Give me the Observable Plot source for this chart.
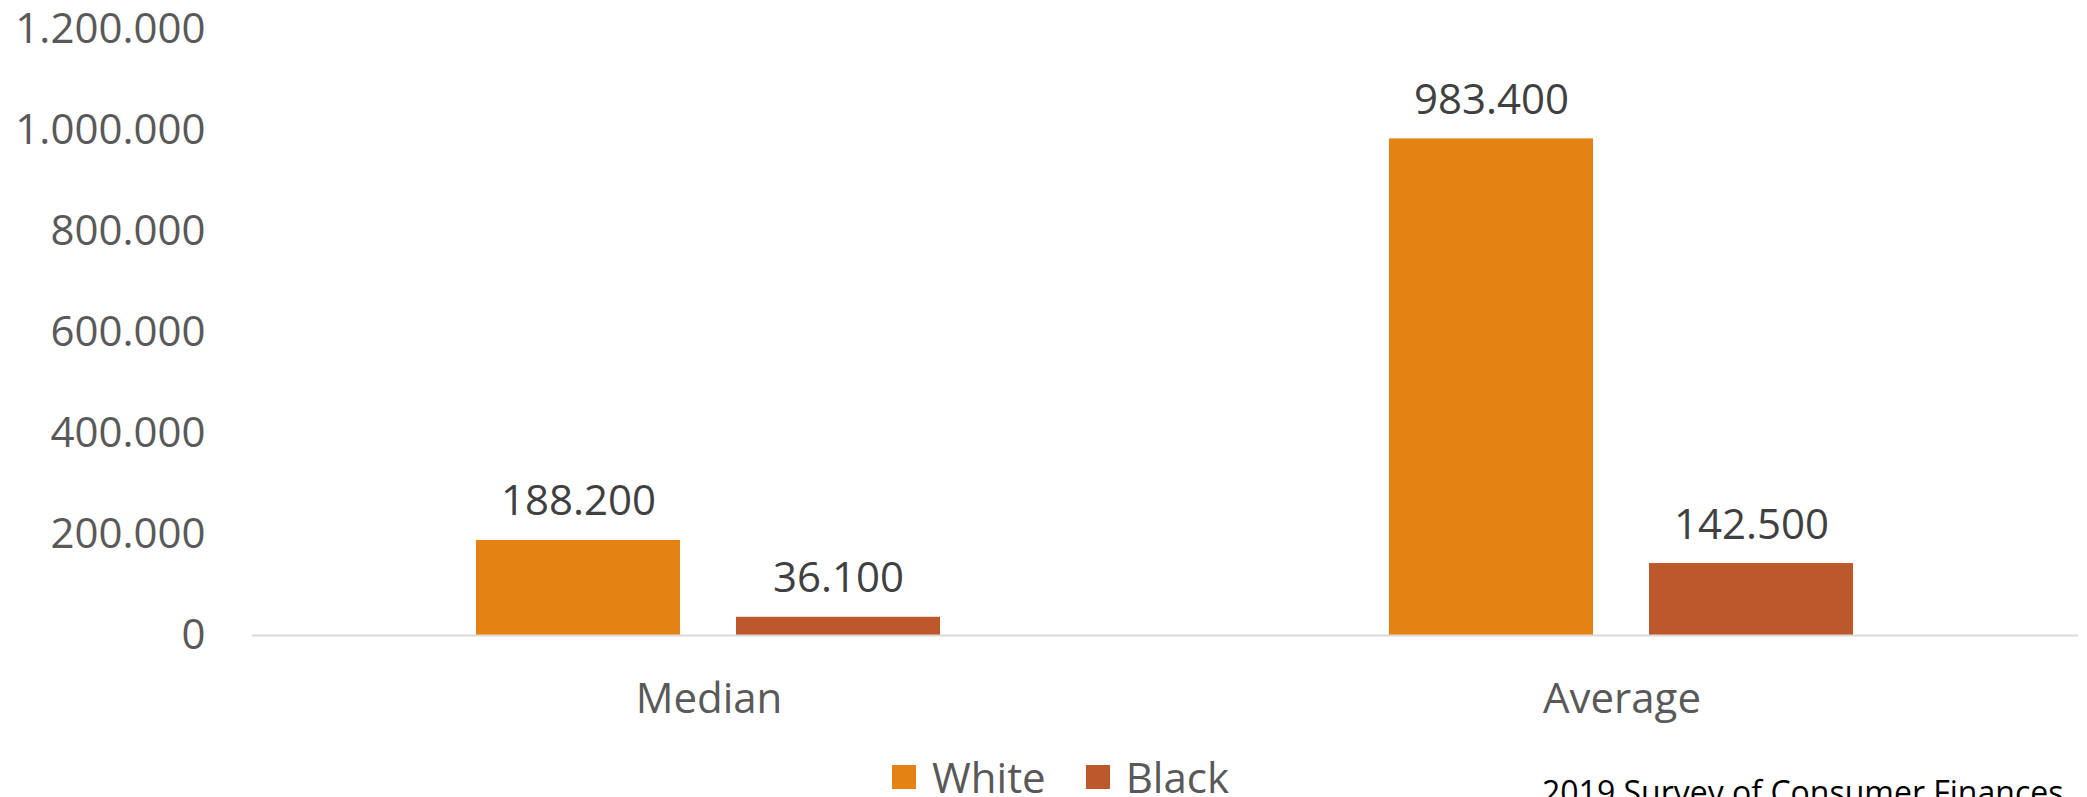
<!DOCTYPE html>
<html>
<head>
<meta charset="utf-8">
<script src="https://cdn.jsdelivr.net/npm/d3@7"></script>
<script src="https://cdn.jsdelivr.net/npm/@observablehq/plot@0.6"></script>
<style>
  html, body { margin: 0; padding: 0; background: #fff; overflow: hidden; }
  #wrap { position: relative; width: 2087px; height: 797px; font-family: "Open Sans", sans-serif; }
  .legend { position: absolute; left: 892px; top: 756px; display: flex; align-items: center; font-size: 42px; line-height: 42px; color: #595959; }
  .legend .sw { width: 24px; height: 24px; margin-right: 16px; }
  .legend .item { display: flex; align-items: center; margin-right: 40px; }
  .caption { position: absolute; left: 1542px; top: 776px; font-size: 32px; line-height: 32px; color: #000; white-space: nowrap; }
</style>
</head>
<body>
<div id="wrap"></div>
<script>
const categories = ["Median", "Average"];
const races = ["White", "Black"];
const whiteValues = [188200, 983400];
const blackValues = [36100, 142500];
const yTicks = [0, 200000, 400000, 600000, 800000, 1000000, 1200000];
const colors = ["#E48312", "#BD582C"];
const captionText = "2019 Survey of Consumer Finances";

const data = [];
categories.forEach((c, i) => {
  data.push({category: c, race: "White", value: whiteValues[i]});
  data.push({category: c, race: "Black", value: blackValues[i]});
});

const locale = d3.formatLocale({decimal: ",", thousands: ".", grouping: [3], currency: ["", ""]});
const fmt = locale.format(",d");

const chart = Plot.plot({
  width: 2087,
  height: 745,
  marginTop: 29,
  marginBottom: 110,
  marginLeft: 252,
  marginRight: 9,
  style: {fontFamily: "'Open Sans', sans-serif", fontSize: "42px", background: "#fff"},
  fx: {domain: categories, padding: 0, label: null},
  x: {domain: races, paddingInner: 0.215, paddingOuter: 0.861, axis: null},
  y: {domain: [0, 1200000], label: null},
  color: {type: "ordinal", domain: races, range: colors},
  marks: [
    Plot.axisY({ticks: yTicks, tickFormat: fmt, tickSize: 0, tickPadding: 47, fill: "#595959", fontSize: 42, label: null}),
    Plot.axisFx({anchor: "bottom", tickSize: 0, tickPadding: 48, fill: "#595959", fontSize: 42, label: null}),
    Plot.barY(data, {fx: "category", x: "race", y: "value", fill: {value: "race", scale: "color"}}),
    Plot.ruleY([0], {stroke: "#d9d9d9", strokeWidth: 2}),
    Plot.text(data, {fx: "category", x: "race", y: "value", text: d => fmt(d.value), lineAnchor: "bottom", dy: -25, fill: "#404040", fontSize: 42})
  ]
});

const wrap = document.getElementById("wrap");
wrap.appendChild(chart);

const legend = document.createElement("div");
legend.className = "legend";
races.forEach((r, i) => {
  const item = document.createElement("div");
  item.className = "item";
  const sw = document.createElement("div");
  sw.className = "sw";
  sw.style.background = colors[i];
  const t = document.createElement("span");
  t.textContent = r;
  item.appendChild(sw);
  item.appendChild(t);
  legend.appendChild(item);
});
wrap.appendChild(legend);

const cap = document.createElement("div");
cap.className = "caption";
cap.textContent = captionText;
wrap.appendChild(cap);
</script>
</body>
</html>
